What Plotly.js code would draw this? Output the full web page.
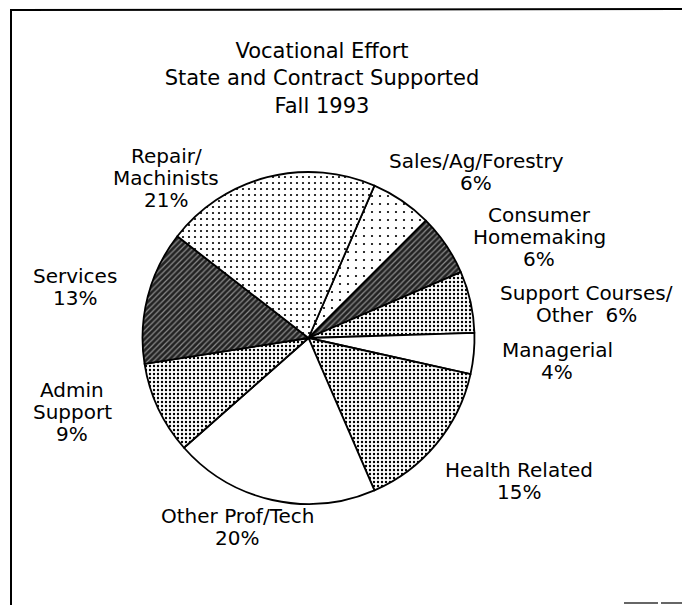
<!DOCTYPE html>
<html><head><meta charset="utf-8">
<script src="https://cdn.plot.ly/plotly-3.0.1.min.js"></script>
<style>html,body{margin:0;padding:0;background:#fff}#chart{width:682px;height:605px}</style>
</head><body><div id="chart"></div>
<script>
// ---- data ----
const categories = ["Sales/Ag/Forestry", "Consumer<br>Homemaking", "Support Courses/<br>Other", "Managerial",
  "Health Related", "Other Prof/Tech", "Admin<br>Support", "Services", "Repair/<br>Machinists"];
const percents = [6, 6, 6, 4, 15, 20, 9, 13, 21];
const titleLines = ["Vocational Effort", "State and Contract Supported", "Fall 1993"];

// ---- label placement (pixel centre x, centre y of first line) ----
const labelX = [476, 539, 586, 557, 519, 237, 72, 75, 166];
const labelY = [161, 215, 293, 350, 470, 516, 390, 276, 156];
const percentInline = [false, false, true, false, false, false, false, false, false];

// ---- fills ----
const fillColors = ['#ffffff', '#222222', '#ffffff', '#ffffff', '#ffffff', '#ffffff', '#ffffff', '#222222', '#ffffff'];
const patShapes  = ['.', '/', '.', '', '.', '', '.', '/', '.'];
const patFg      = ['#000', '#8c8c8c', '#000', '#000', '#000', '#000', '#000', '#8c8c8c', '#000'];
const patSize    = [8, 4, 4, 6, 4, 6, 4, 4, 6];
const patSolid   = [0.06, 0.3, 0.28, 0.1, 0.28, 0.1, 0.28, 0.3, 0.11];

const W = 682, H = 605;
const FONT = 'DejaVu Sans, sans-serif';
const LINE = 22;

const annotations = [];
categories.forEach((c, i) => {
  const lines = c.split('<br>');
  const pct = percents[i] + '%';
  if (percentInline[i]) lines[lines.length - 1] += '\u00a0\u00a0' + pct; else lines.push(pct);
  lines.forEach((ln, k) => {
    annotations.push({
      text: ln, showarrow: false, xref: 'paper', yref: 'paper',
      x: labelX[i] / W, y: 1 - (labelY[i] + k * LINE) / H,
      xanchor: 'center', yanchor: 'middle',
      font: {family: FONT, size: 20, color: '#000'}
    });
  });
});

const cx = 308.5, cy = 338, r = 166;
const trace = {
  type: 'pie',
  labels: categories,
  values: percents,
  sort: false,
  direction: 'clockwise',
  rotation: 23.4,
  textinfo: 'none',
  hoverinfo: 'label+percent',
  domain: {x: [(cx - r) / W, (cx + r) / W], y: [(H - cy - r) / H, (H - cy + r) / H]},
  marker: {
    colors: fillColors,
    line: {color: '#000', width: 1.8},
    pattern: {shape: patShapes, fgcolor: patFg, bgcolor: fillColors, size: patSize, solidity: patSolid, fillmode: 'replace'}
  },
  showlegend: false
};

const layout = {
  width: W, height: H,
  margin: {l: 0, r: 0, t: 0, b: 0, pad: 0},
  paper_bgcolor: '#fff',
  title: {
    text: titleLines.join('<br>'),
    font: {family: FONT, size: 21, color: '#000'},
    x: 322 / W, xanchor: 'center', xref: 'container',
    y: 1 - 58 / H, yanchor: 'top', yref: 'container'
  },
  annotations: annotations,
  shapes: [
    {type: 'line', xref: 'paper', yref: 'paper', x0: 10 / W, x1: 1, y0: 1 - 10 / H, y1: 1 - 9 / H, line: {color: '#000', width: 2}},
    {type: 'line', xref: 'paper', yref: 'paper', x0: 11 / W, x1: 11 / W, y0: 1 - 10 / H, y1: 0, line: {color: '#000', width: 2}},
    {type: 'line', xref: 'paper', yref: 'paper', x0: 624 / W, x1: 658 / W, y0: 2 / H, y1: 2 / H, line: {color: '#666', width: 2}},
    {type: 'line', xref: 'paper', yref: 'paper', x0: 661 / W, x1: 1, y0: 2 / H, y1: 2 / H, line: {color: '#666', width: 2}}
  ]
};

Plotly.newPlot('chart', [trace], layout, {displayModeBar: false, staticPlot: true});
</script></body></html>
